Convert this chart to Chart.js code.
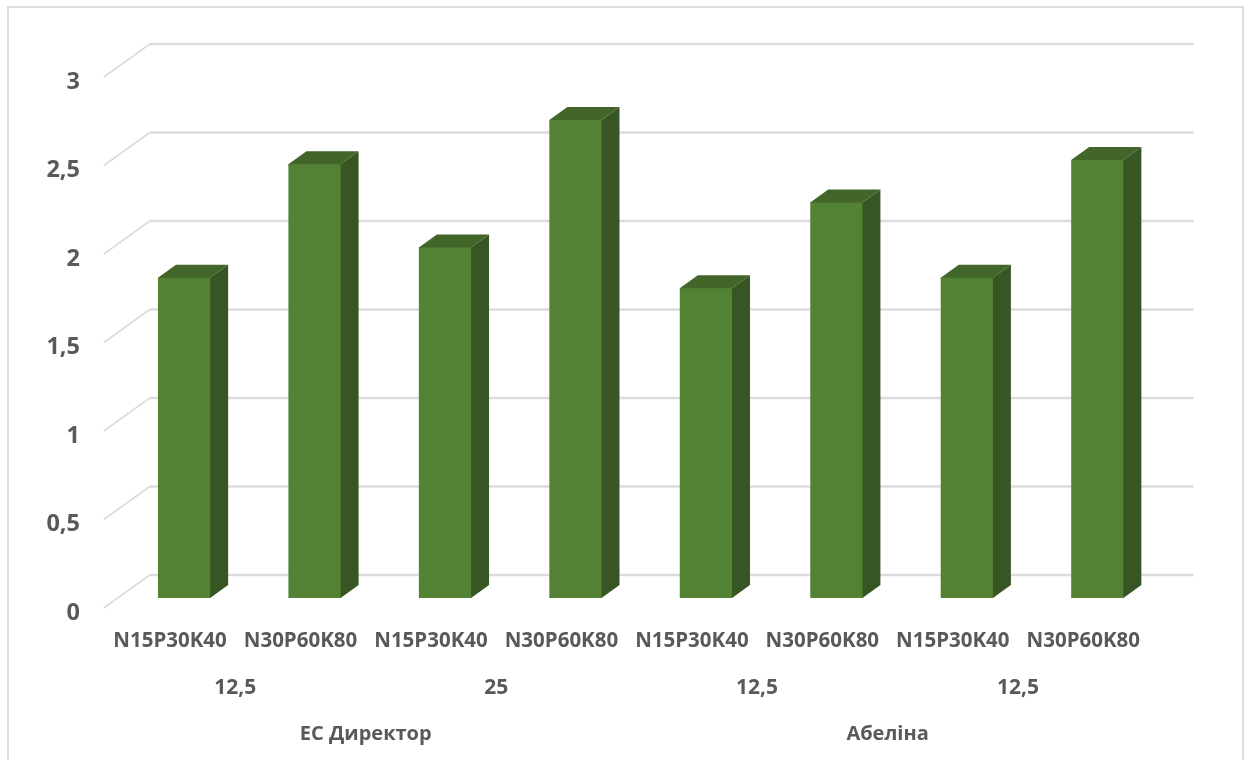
<!DOCTYPE html>
<html>
<head>
<meta charset="utf-8">
<style>
  html, body { margin: 0; padding: 0; background: #fff; }
  canvas { display: block; }
</style>
<script src="https://cdn.jsdelivr.net/npm/chart.js"></script>
</head>
<body>
<canvas id="yieldChart" width="1251" height="760"></canvas>
<script>
let categories = ["N15P30K40", "N30P60K80", "N15P30K40", "N30P60K80", "N15P30K40", "N30P60K80", "N15P30K40", "N30P60K80"];
let doses = ["12,5", "25", "12,5", "12,5"];
let products = ["ЕС Директор", "Абеліна"];
let values = [1.81, 2.45, 1.98, 2.7, 1.75, 2.235, 1.81, 2.475];
let yTickLabels = ["0", "0,5", "1", "1,5", "2", "2,5", "3"];

let fontFamily = "'Open Sans', sans-serif";
let textColor = "#595959";
let gridColor = "#dcdcdc";

// oblique offsets of the fake 3D box
let barDepthX = 18;
let barDepthY = 13;

// frame around the whole chart
let framePlugin = {
  id: "frame",
  beforeDraw(chart) {
    let ctx = chart.ctx;
    ctx.save();
    ctx.fillStyle = "#ffffff";
    ctx.fillRect(0, 0, chart.width, chart.height);
    ctx.strokeStyle = gridColor;
    ctx.lineWidth = 2;
    ctx.strokeRect(8, 7, chart.width - 16, chart.height);
    ctx.restore();
  }
};

// wall lines and the side/top faces of the bars
let boxPlugin = {
  id: "box",
  beforeDatasetsDraw(chart) {
    let ctx = chart.ctx;
    let area = chart.chartArea;
    let yScale = chart.scales.y;

    ctx.save();
    ctx.strokeStyle = gridColor;
    yScale.ticks.forEach((tick, i) => {
      let py = yScale.getPixelForTick(i);
      ctx.lineWidth = 1.6;
      ctx.beginPath();
      ctx.moveTo(area.left - 15, py + 10);
      ctx.lineTo(area.left + 31, py - 23);
      ctx.stroke();
      ctx.lineWidth = 2.4;
      ctx.beginPath();
      ctx.moveTo(area.left + 31, py - 23);
      ctx.lineTo(area.right + 31, py - 23);
      ctx.stroke();
    });

    chart.getDatasetMeta(0).data.forEach((bar) => {
      let left = bar.x - bar.width / 2;
      let right = bar.x + bar.width / 2;

      // both faces run 1px under the front so no seam shows
      ctx.fillStyle = "#375623";
      ctx.beginPath();
      ctx.moveTo(right - 1, bar.y);
      ctx.lineTo(right, bar.y);
      ctx.lineTo(right + barDepthX, bar.y - barDepthY);
      ctx.lineTo(right + barDepthX, bar.base - barDepthY);
      ctx.lineTo(right, bar.base);
      ctx.lineTo(right - 1, bar.base);
      ctx.closePath();
      ctx.fill();

      ctx.fillStyle = "#426529";
      ctx.beginPath();
      ctx.moveTo(left, bar.y + 1);
      ctx.lineTo(left, bar.y);
      ctx.lineTo(left + barDepthX, bar.y - barDepthY);
      ctx.lineTo(right + barDepthX, bar.y - barDepthY);
      ctx.lineTo(right, bar.y);
      ctx.lineTo(right, bar.y + 1);
      ctx.closePath();
      ctx.fill();
    });
    ctx.restore();
  }
};

function categoryAxis(labels, padding, height, size) {
  return {
    type: "category",
    position: "bottom",
    labels: labels,
    offset: true,
    border: { display: false },
    grid: { display: false, drawTicks: false },
    ticks: {
      autoSkip: false,
      maxRotation: 0,
      minRotation: 0,
      padding: padding,
      labelOffset: -14,
      color: textColor,
      font: { family: fontFamily, size: size, weight: "bold" }
    },
    afterFit(scale) {
      scale.height = height;
    }
  };
}

new Chart(document.getElementById("yieldChart"), {
  type: "bar",
  plugins: [framePlugin, boxPlugin],
  data: {
    labels: categories,
    datasets: [{
      data: values,
      backgroundColor: "#548235",
      categoryPercentage: 1,
      barPercentage: 0.4,
      xAxisID: "x",
      yAxisID: "y"
    }]
  },
  options: {
    responsive: false,
    animation: false,
    layout: { padding: { top: 67, right: 88.5, bottom: 0, left: 0 } },
    plugins: { legend: { display: false }, tooltip: { enabled: false }, title: { display: false } },
    scales: {
      x: categoryAxis(categories, 31, 58, 20.5),
      x2: categoryAxis(doses, 19, 46.5, 21),
      x3: categoryAxis(products, 20, 57.5, 20),
      y: {
        min: 0,
        max: 3,
        border: { display: false },
        grid: { display: false, drawTicks: false },
        ticks: {
          stepSize: 0.5,
          padding: 38.8,
          labelOffset: 15,
          color: textColor,
          font: { family: fontFamily, size: 23.5, weight: "bold" },
          callback: (value, index) => yTickLabels[index]
        },
        afterFit(scale) {
          scale.width = 118.8;
        }
      }
    }
  }
});
</script>
</body>
</html>
